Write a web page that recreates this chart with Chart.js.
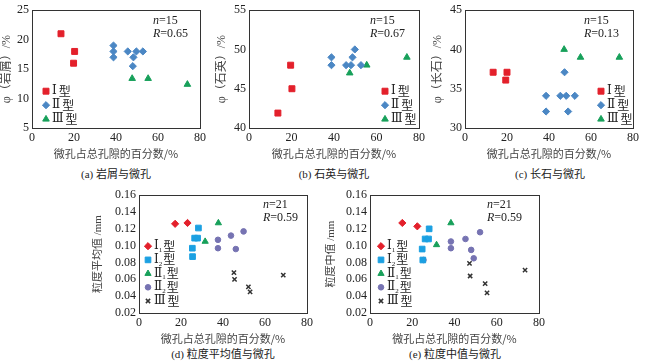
<!DOCTYPE html>
<html>
<head>
<meta charset="utf-8">
<script src="https://cdn.jsdelivr.net/npm/chart.js@4"></script>
<style>
  body { margin: 0; background: #fff; }
  #wrap { position: relative; width: 645px; height: 362px; overflow: hidden; }
  canvas { position: absolute; }
  .cap { position: absolute; font: 11px "Liberation Serif", "Noto Sans CJK SC"; color: #222; transform: translateX(-50%); white-space: nowrap; }
</style>
</head>
<body>
<div id="wrap">
  <canvas id="chartA" width="210" height="160" style="left:0px;top:0px"></canvas>
  <canvas id="chartB" width="214" height="160" style="left:215px;top:0px"></canvas>
  <canvas id="chartC" width="211" height="160" style="left:431px;top:0px"></canvas>
  <canvas id="chartD" width="225" height="160" style="left:92px;top:185px"></canvas>
  <canvas id="chartE" width="224" height="160" style="left:325px;top:185px"></canvas>
  <div class="cap" style="left:116px;top:165px">(a) 岩屑与微孔</div>
  <div class="cap" style="left:334px;top:165px">(b) 石英与微孔</div>
  <div class="cap" style="left:550px;top:165px">(c) 长石与微孔</div>
  <div class="cap" style="left:223px;top:345px">(d) 粒度平均值与微孔</div>
  <div class="cap" style="left:455px;top:345px">(e) 粒度中值与微孔</div>
</div>
<script>
// x axis shared by every panel
const xMin = 0, xMax = 80, xStep = 20;
const xTitle = '微孔占总孔隙的百分数/%';

// (a) lithic fragments vs micropores
const aType1 = [[13.8, 21], [20.3, 18], [19.8, 16]];
const aType2 = [[38.8, 19], [38.8, 18], [38.8, 17], [45.6, 18], [49.7, 18], [52.8, 18], [48.3, 17], [48, 15.5]];
const aType3 = [[47.7, 13.4], [55.3, 13.4], [74, 12.4]];

// (b) quartz vs micropores
const bType1 = [[19.6, 48], [20.2, 45], [13.6, 41.9]];
const bType2 = [[38.8, 49], [38.8, 48], [45.7, 48], [48, 48], [52.7, 48], [48.7, 49], [49.8, 50]];
const bType3 = [[47.4, 47], [55.4, 48], [74.3, 49]];

// (c) feldspar vs micropores
const cType1 = [[13.4, 37.1], [20, 37.1], [19.4, 36.1]];
const cType2 = [[47.4, 37.1], [38.6, 34.1], [45.4, 34.1], [48.2, 34.1], [52.3, 34.1], [38.6, 32.1], [49.1, 32.1]];
const cType3 = [[47.2, 40], [55, 39], [73.5, 39]];

// (d) mean grain size vs micropores
const dTypeI1 = [[17.2, 0.126], [23.1, 0.127]];
const dTypeI2 = [[28.3, 0.121], [26.5, 0.109], [27.9, 0.109], [25.4, 0.097], [25.5, 0.087]];
const dTypeII1 = [[37.8, 0.127], [31.5, 0.105]];
const dTypeII2 = [[37.6, 0.107], [37.6, 0.097], [43.8, 0.112], [49.8, 0.117], [46.1, 0.096]];
const dTypeIII = [[45.2, 0.068], [45.5, 0.060], [52.1, 0.051], [52.9, 0.045], [68.7, 0.065]];

// (e) median grain size vs micropores
const eTypeI1 = [[15.3, 0.127], [22.4, 0.123]];
const eTypeI2 = [[28, 0.120], [26.1, 0.108], [27.7, 0.108], [24.7, 0.096], [25, 0.083]];
const eTypeII1 = [[38.3, 0.127], [31.5, 0.101]];
const eTypeII2 = [[25.3, 0.083], [38.3, 0.105], [38.3, 0.097], [45.2, 0.108], [52.1, 0.116], [47.9, 0.095], [49.1, 0.085]];
const eTypeIII = [[47.1, 0.079], [47.4, 0.064], [54.5, 0.055], [55.4, 0.044], [73.4, 0.071]];

const typeLabels3 = [['Ⅰ', '', '型'], ['Ⅱ', '', '型'], ['Ⅲ', '', '型']];
const typeLabels5 = [['Ⅰ', '1', '型'], ['Ⅰ', '2', '型'], ['Ⅱ', '1', '型'], ['Ⅱ', '2', '型'], ['Ⅲ', '', '型']];

const numFont = '"Liberation Serif", "Noto Sans CJK SC"';
const RED = '#e3202b', BLUE = '#4b87c4', GREEN = '#17a05a', CYAN = '#1ba0e2', PURPLE = '#7673b2', BLACK = '#333';

const toXY = pts => pts.map(p => ({ x: p[0], y: p[1] }));

// box frame, n/R note and in-plot legend
const panelDecor = {
    id: 'panelDecor',
    afterDraw(chart, args, opts) {
        const { ctx, chartArea: a } = chart;
        ctx.save();
        ctx.strokeStyle = '#333';
        ctx.lineWidth = 1;
        ctx.strokeRect(Math.round(a.left) + 0.5, Math.round(a.top) + 0.5, Math.round(a.right - a.left), Math.round(a.bottom - a.top));

        ctx.fillStyle = '#222';
        ctx.textBaseline = 'middle';
        const sx = a.left + opts.statX, sy = a.top + opts.statY;
        ctx.font = 'italic 12px "Liberation Serif"';
        ctx.fillText('n', sx, sy);
        let w = ctx.measureText('n').width;
        ctx.font = '12px "Liberation Serif"';
        ctx.fillText('=' + opts.n, sx + w, sy);
        ctx.font = 'italic 12px "Liberation Serif"';
        ctx.fillText('R', sx, sy + 13);
        w = ctx.measureText('R').width;
        ctx.font = '12px "Liberation Serif"';
        ctx.fillText('=' + opts.r, sx + w, sy + 13);

        chart.data.datasets.forEach((ds, i) => {
            const lx = a.left + opts.legX, ly = a.top + opts.legY + i * opts.legStep;
            ctx.fillStyle = ds.backgroundColor;
            ctx.strokeStyle = ds.borderColor;
            ctx.lineWidth = ds.borderWidth || 1;
            Chart.helpers.drawPoint(ctx, { pointStyle: ds.pointStyle, radius: ds.pointRadius, rotation: 0, borderWidth: ds.borderWidth || 1 }, lx, ly);
            const [main, sub, tail] = opts.labels[i];
            ctx.fillStyle = '#222';
            ctx.font = '12px "DejaVu Serif", "Noto Sans CJK SC"';
            let tx = lx + 6;
            ctx.fillText(main, tx, ly);
            tx += ctx.measureText(main).width;
            if (sub) {
                ctx.font = '7px "Liberation Serif"';
                ctx.fillText(sub, tx, ly + 4);
                tx += ctx.measureText(sub).width + 1;
            } else {
                tx += 2;
            }
            ctx.font = '12px "Noto Sans CJK SC"';
            ctx.fillText(tail, tx, ly);
        });
        ctx.restore();
    }
};

function makeChart(id, cfg) {
    new Chart(document.getElementById(id), {
        type: 'scatter',
        data: {
            datasets: cfg.sets.map(s => ({
                data: toXY(s.pts),
                pointStyle: s.style,
                pointRadius: s.r,
                backgroundColor: s.color,
                borderColor: s.color,
                borderWidth: s.style === 'crossRot' ? 1.5 : 1
            }))
        },
        options: {
            responsive: false,
            animation: false,
            layout: { padding: { top: cfg.padTop, right: cfg.padRight, left: 0, bottom: 0 } },
            plugins: {
                legend: { display: false },
                tooltip: { enabled: false },
                panelDecor: cfg.decor
            },
            scales: {
                x: {
                    type: 'linear', min: xMin, max: xMax,
                    grid: { display: false, drawTicks: false },
                    border: { display: false },
                    ticks: { stepSize: xStep, color: '#222', padding: 3, font: { family: numFont, size: 12 } },
                    title: { display: true, text: xTitle, color: '#444', padding: { top: 2, bottom: 0 }, font: { family: '"Noto Sans CJK SC"', size: 11 } },
                    afterFit: s => { s.height = cfg.xH; }
                },
                y: {
                    min: cfg.yMin, max: cfg.yMax,
                    grid: { display: false, drawTicks: false },
                    border: { display: false },
                    ticks: {
                        stepSize: cfg.yStep, autoSkip: false, color: '#222', padding: 3, font: { family: numFont, size: 12 },
                        callback: v => cfg.yDec ? v.toFixed(cfg.yDec) : v
                    },
                    title: { display: true, text: cfg.yTitle, color: '#444', padding: { top: 0, bottom: 0 }, font: { family: numFont, size: cfg.yTitleSize } },
                    afterFit: s => { s.width = cfg.yW; }
                }
            }
        },
        plugins: [panelDecor]
    });
}

const topCommon = { padTop: 8, xH: 32, yTitleSize: 12 };
const botCommon = { padTop: 9, xH: 32, yTitleSize: 11, yMin: 0.02, yMax: 0.16, yStep: 0.02, yDec: 2 };

makeChart('chartA', Object.assign({}, topCommon, {
    padRight: 10, yW: 32, yMin: 5, yMax: 25, yStep: 5, yTitle: 'φ（岩屑）/%',
    sets: [
        { pts: aType1, style: 'rect', r: 4.2, color: RED },
        { pts: aType2, style: 'rectRot', r: 3.6, color: BLUE },
        { pts: aType3, style: 'triangle', r: 3.8, color: GREEN }
    ],
    decor: { n: 15, r: '0.65', statX: 121, statY: 11, legX: 14, legY: 81, legStep: 14, labels: typeLabels3 }
}));

makeChart('chartB', Object.assign({}, topCommon, {
    padRight: 10, yW: 34, yMin: 40, yMax: 55, yStep: 5, yTitle: 'φ（石英）/%',
    sets: [
        { pts: bType1, style: 'rect', r: 4.2, color: RED },
        { pts: bType2, style: 'rectRot', r: 3.6, color: BLUE },
        { pts: bType3, style: 'triangle', r: 3.8, color: GREEN }
    ],
    decor: { n: 15, r: '0.67', statX: 121, statY: 11, legX: 136, legY: 81, legStep: 14, labels: typeLabels3 }
}));

makeChart('chartC', Object.assign({}, topCommon, {
    padRight: 8, yW: 34, yMin: 30, yMax: 45, yStep: 5, yTitle: 'φ（长石）/%',
    sets: [
        { pts: cType1, style: 'rect', r: 4.2, color: RED },
        { pts: cType2, style: 'rectRot', r: 3.6, color: BLUE },
        { pts: cType3, style: 'triangle', r: 3.8, color: GREEN }
    ],
    decor: { n: 15, r: '0.13', statX: 119, statY: 11, legX: 136, legY: 81, legStep: 14, labels: typeLabels3 }
}));

makeChart('chartD', Object.assign({}, botCommon, {
    padRight: 10, yW: 47, yTitle: '粒度平均值 /mm',
    sets: [
        { pts: dTypeI1, style: 'rectRot', r: 3.6, color: RED },
        { pts: dTypeI2, style: 'rect', r: 4, color: CYAN },
        { pts: dTypeII1, style: 'triangle', r: 3.6, color: GREEN },
        { pts: dTypeII2, style: 'circle', r: 2.8, color: PURPLE },
        { pts: dTypeIII, style: 'crossRot', r: 3, color: BLACK }
    ],
    decor: { n: 21, r: '0.59', statX: 124, statY: 10, legX: 9, legY: 51, legStep: 13.7, labels: typeLabels5 }
}));

makeChart('chartE', Object.assign({}, botCommon, {
    padRight: 10, yW: 45, yTitle: '粒度中值 /mm',
    sets: [
        { pts: eTypeI1, style: 'rectRot', r: 3.6, color: RED },
        { pts: eTypeI2, style: 'rect', r: 4, color: CYAN },
        { pts: eTypeII1, style: 'triangle', r: 3.6, color: GREEN },
        { pts: eTypeII2, style: 'circle', r: 2.8, color: PURPLE },
        { pts: eTypeIII, style: 'crossRot', r: 3, color: BLACK }
    ],
    decor: { n: 21, r: '0.59', statX: 117, statY: 10, legX: 11, legY: 51, legStep: 13.7, labels: typeLabels5 }
}));
</script>
</body>
</html>
